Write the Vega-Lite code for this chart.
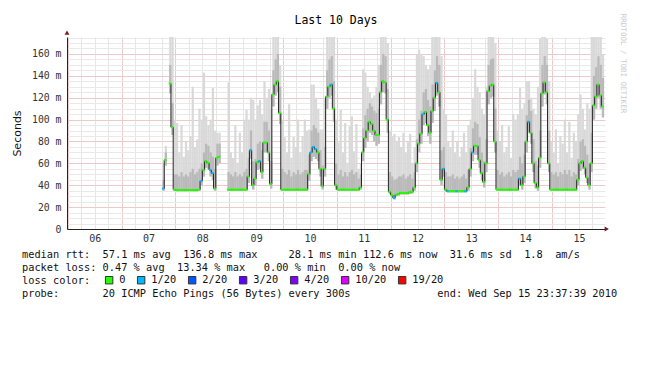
{
  "$schema": "https://vega.github.io/schema/vega-lite/v6.json",
  "autosize": "none",
  "width": 538,
  "height": 192,
  "padding": {"left": 67, "top": 37, "right": 45, "bottom": 153},
  "background": "#ffffff",
  "config": {"view": {"stroke": null}},
  "title": {"text": "Last 10 Days", "font": "DejaVu Sans Mono", "fontSize": 11.5, "fontWeight": "normal", "color": "#000000", "anchor": "middle", "offset": 10, "dy": 23.5},
  "datasets": {
    "smoke": [
      {"t":"2010-09-07T18:30Z","s":"a","m":37,"lo":35,"q":45,"hi":60,"l":"1/20"},
      {"t":"2010-09-07T19:30Z","s":"a","m":63,"lo":58,"q":70,"hi":76,"l":"0"},
      {"t":"2010-09-07T21:30Z","s":"b","m":133,"lo":124,"q":150,"hi":176,"l":"0"},
      {"t":"2010-09-07T22:30Z","s":"b","m":93,"lo":86,"q":115,"hi":176,"l":"0"},
      {"t":"2010-09-07T23:30Z","s":"b","m":36,"lo":35,"q":50,"hi":100,"l":"0"},
      {"t":"2010-09-08T00:30Z","s":"b","m":35.5,"lo":34.5,"q":50,"hi":97,"l":"0"},
      {"t":"2010-09-08T01:30Z","s":"b","m":35.5,"lo":34.5,"q":48,"hi":70,"l":"0"},
      {"t":"2010-09-08T02:30Z","s":"b","m":35.5,"lo":34.5,"q":52,"hi":95,"l":"0"},
      {"t":"2010-09-08T03:30Z","s":"b","m":35.5,"lo":34.5,"q":48,"hi":66,"l":"0"},
      {"t":"2010-09-08T04:30Z","s":"b","m":35.5,"lo":34.5,"q":50,"hi":80,"l":"0"},
      {"t":"2010-09-08T05:30Z","s":"b","m":35.5,"lo":34.5,"q":48,"hi":72,"l":"0"},
      {"t":"2010-09-08T06:30Z","s":"b","m":35.5,"lo":34.5,"q":52,"hi":85,"l":"0"},
      {"t":"2010-09-08T07:30Z","s":"b","m":35.5,"lo":34.5,"q":55,"hi":130,"l":"0"},
      {"t":"2010-09-08T08:30Z","s":"b","m":35.5,"lo":34.5,"q":50,"hi":75,"l":"0"},
      {"t":"2010-09-08T09:30Z","s":"b","m":35.5,"lo":34.5,"q":52,"hi":82,"l":"0"},
      {"t":"2010-09-08T10:30Z","s":"b","m":36,"lo":35,"q":55,"hi":110,"l":"0"},
      {"t":"2010-09-08T11:30Z","s":"b","m":44,"lo":40,"q":60,"hi":100,"l":"1/20"},
      {"t":"2010-09-08T12:30Z","s":"b","m":54,"lo":48,"q":70,"hi":143,"l":"0"},
      {"t":"2010-09-08T13:30Z","s":"b","m":62,"lo":56,"q":78,"hi":103,"l":"0"},
      {"t":"2010-09-08T14:30Z","s":"b","m":60.5,"lo":55,"q":76,"hi":95,"l":"0"},
      {"t":"2010-09-08T15:30Z","s":"b","m":54,"lo":48,"q":70,"hi":100,"l":"1/20"},
      {"t":"2010-09-08T16:30Z","s":"b","m":51,"lo":45,"q":66,"hi":129,"l":"1/20"},
      {"t":"2010-09-08T17:30Z","s":"b","m":37,"lo":35,"q":55,"hi":90,"l":"0"},
      {"t":"2010-09-08T18:30Z","s":"b","m":65,"lo":58,"q":78,"hi":88,"l":"0"},
      {"t":"2010-09-08T19:30Z","s":"b","m":66,"lo":60,"q":78,"hi":88,"l":"0"},
      {"t":"2010-09-08T23:30Z","s":"c","m":36,"lo":35,"q":52,"hi":134,"l":"0"},
      {"t":"2010-09-09T00:30Z","s":"c","m":36,"lo":35,"q":50,"hi":70,"l":"0"},
      {"t":"2010-09-09T01:30Z","s":"c","m":36,"lo":35,"q":48,"hi":65,"l":"0"},
      {"t":"2010-09-09T02:30Z","s":"c","m":36,"lo":35,"q":52,"hi":95,"l":"0"},
      {"t":"2010-09-09T03:30Z","s":"c","m":36,"lo":35,"q":48,"hi":60,"l":"0"},
      {"t":"2010-09-09T04:30Z","s":"c","m":36,"lo":35,"q":50,"hi":88,"l":"0"},
      {"t":"2010-09-09T05:30Z","s":"c","m":36,"lo":35,"q":48,"hi":70,"l":"0"},
      {"t":"2010-09-09T06:30Z","s":"c","m":36,"lo":35,"q":52,"hi":100,"l":"0"},
      {"t":"2010-09-09T07:30Z","s":"c","m":36,"lo":35,"q":55,"hi":109,"l":"0"},
      {"t":"2010-09-09T08:30Z","s":"c","m":48,"lo":42,"q":65,"hi":100,"l":"0"},
      {"t":"2010-09-09T09:30Z","s":"c","m":72,"lo":64,"q":90,"hi":120,"l":"1/20"},
      {"t":"2010-09-09T10:30Z","s":"c","m":40,"lo":36,"q":62,"hi":118,"l":"0"},
      {"t":"2010-09-09T11:30Z","s":"c","m":46,"lo":40,"q":64,"hi":100,"l":"0"},
      {"t":"2010-09-09T12:30Z","s":"c","m":61,"lo":54,"q":78,"hi":113,"l":"0"},
      {"t":"2010-09-09T13:30Z","s":"c","m":62,"lo":55,"q":80,"hi":118,"l":"1/20"},
      {"t":"2010-09-09T14:30Z","s":"c","m":52,"lo":46,"q":72,"hi":105,"l":"0"},
      {"t":"2010-09-09T15:30Z","s":"c","m":79,"lo":70,"q":98,"hi":135,"l":"0"},
      {"t":"2010-09-09T16:30Z","s":"c","m":79,"lo":70,"q":98,"hi":120,"l":"0"},
      {"t":"2010-09-09T17:30Z","s":"c","m":70,"lo":62,"q":90,"hi":128,"l":"0"},
      {"t":"2010-09-09T18:30Z","s":"c","m":41,"lo":37,"q":62,"hi":110,"l":"0"},
      {"t":"2010-09-09T19:30Z","s":"c","m":123,"lo":112,"q":145,"hi":176,"l":"0"},
      {"t":"2010-09-09T20:30Z","s":"c","m":132,"lo":122,"q":155,"hi":176,"l":"0"},
      {"t":"2010-09-09T21:30Z","s":"c","m":135,"lo":125,"q":160,"hi":176,"l":"0"},
      {"t":"2010-09-09T22:30Z","s":"c","m":106,"lo":96,"q":130,"hi":150,"l":"0"},
      {"t":"2010-09-09T23:30Z","s":"c","m":36,"lo":35,"q":55,"hi":100,"l":"0"},
      {"t":"2010-09-10T00:30Z","s":"c","m":36,"lo":35,"q":52,"hi":84,"l":"0"},
      {"t":"2010-09-10T01:30Z","s":"c","m":36,"lo":35,"q":50,"hi":70,"l":"0"},
      {"t":"2010-09-10T02:30Z","s":"c","m":36,"lo":35,"q":54,"hi":114,"l":"0"},
      {"t":"2010-09-10T03:30Z","s":"c","m":36,"lo":35,"q":48,"hi":65,"l":"0"},
      {"t":"2010-09-10T04:30Z","s":"c","m":36,"lo":35,"q":52,"hi":84,"l":"0"},
      {"t":"2010-09-10T05:30Z","s":"c","m":36,"lo":35,"q":50,"hi":75,"l":"0"},
      {"t":"2010-09-10T06:30Z","s":"c","m":36,"lo":35,"q":54,"hi":100,"l":"0"},
      {"t":"2010-09-10T07:30Z","s":"c","m":36,"lo":35,"q":50,"hi":70,"l":"0"},
      {"t":"2010-09-10T08:30Z","s":"c","m":36,"lo":35,"q":52,"hi":85,"l":"0"},
      {"t":"2010-09-10T09:30Z","s":"c","m":36,"lo":35,"q":54,"hi":100,"l":"0"},
      {"t":"2010-09-10T10:30Z","s":"c","m":36,"lo":35,"q":54,"hi":90,"l":"0"},
      {"t":"2010-09-10T11:30Z","s":"c","m":50,"lo":44,"q":68,"hi":91,"l":"0"},
      {"t":"2010-09-10T12:30Z","s":"c","m":70,"lo":62,"q":90,"hi":132,"l":"1/20"},
      {"t":"2010-09-10T13:30Z","s":"c","m":75,"lo":66,"q":95,"hi":132,"l":"1/20"},
      {"t":"2010-09-10T14:30Z","s":"c","m":73,"lo":64,"q":92,"hi":120,"l":"1/20"},
      {"t":"2010-09-10T15:30Z","s":"c","m":70,"lo":62,"q":88,"hi":110,"l":"0"},
      {"t":"2010-09-10T16:30Z","s":"c","m":55,"lo":48,"q":72,"hi":91,"l":"0"},
      {"t":"2010-09-10T17:30Z","s":"c","m":39,"lo":36,"q":58,"hi":91,"l":"0"},
      {"t":"2010-09-10T18:30Z","s":"c","m":55,"lo":48,"q":75,"hi":120,"l":"0"},
      {"t":"2010-09-10T19:30Z","s":"c","m":121,"lo":110,"q":145,"hi":176,"l":"0"},
      {"t":"2010-09-10T20:30Z","s":"c","m":130,"lo":120,"q":155,"hi":176,"l":"0"},
      {"t":"2010-09-10T21:30Z","s":"c","m":132,"lo":122,"q":158,"hi":176,"l":"1/20"},
      {"t":"2010-09-10T22:30Z","s":"c","m":110,"lo":98,"q":135,"hi":176,"l":"0"},
      {"t":"2010-09-10T23:30Z","s":"c","m":40,"lo":36,"q":60,"hi":100,"l":"0"},
      {"t":"2010-09-11T00:30Z","s":"c","m":36,"lo":35,"q":50,"hi":79,"l":"0"},
      {"t":"2010-09-11T01:30Z","s":"c","m":36,"lo":35,"q":54,"hi":109,"l":"0"},
      {"t":"2010-09-11T02:30Z","s":"c","m":36,"lo":35,"q":48,"hi":70,"l":"0"},
      {"t":"2010-09-11T03:30Z","s":"c","m":36,"lo":35,"q":52,"hi":97,"l":"0"},
      {"t":"2010-09-11T04:30Z","s":"c","m":36,"lo":35,"q":48,"hi":60,"l":"0"},
      {"t":"2010-09-11T05:30Z","s":"c","m":36,"lo":35,"q":52,"hi":94,"l":"0"},
      {"t":"2010-09-11T06:30Z","s":"c","m":36,"lo":35,"q":54,"hi":103,"l":"0"},
      {"t":"2010-09-11T07:30Z","s":"c","m":36,"lo":35,"q":50,"hi":71,"l":"0"},
      {"t":"2010-09-11T08:30Z","s":"c","m":36,"lo":35,"q":52,"hi":96,"l":"0"},
      {"t":"2010-09-11T09:30Z","s":"c","m":36,"lo":35,"q":46,"hi":55,"l":"0"},
      {"t":"2010-09-11T10:30Z","s":"c","m":38,"lo":36,"q":50,"hi":60,"l":"0"},
      {"t":"2010-09-11T11:30Z","s":"c","m":70,"lo":62,"q":92,"hi":146,"l":"0"},
      {"t":"2010-09-11T12:30Z","s":"c","m":83,"lo":74,"q":104,"hi":143,"l":"0"},
      {"t":"2010-09-11T13:30Z","s":"c","m":90,"lo":80,"q":110,"hi":130,"l":"0"},
      {"t":"2010-09-11T14:30Z","s":"c","m":98,"lo":88,"q":115,"hi":125,"l":"0"},
      {"t":"2010-09-11T15:30Z","s":"c","m":96,"lo":86,"q":112,"hi":120,"l":"0"},
      {"t":"2010-09-11T16:30Z","s":"c","m":90,"lo":80,"q":108,"hi":122,"l":"0"},
      {"t":"2010-09-11T17:30Z","s":"c","m":86,"lo":76,"q":106,"hi":130,"l":"0"},
      {"t":"2010-09-11T18:30Z","s":"c","m":86,"lo":78,"q":110,"hi":150,"l":"0"},
      {"t":"2010-09-11T19:30Z","s":"c","m":125,"lo":114,"q":150,"hi":176,"l":"0"},
      {"t":"2010-09-11T20:30Z","s":"c","m":135,"lo":125,"q":160,"hi":176,"l":"0"},
      {"t":"2010-09-11T21:30Z","s":"c","m":134,"lo":124,"q":158,"hi":176,"l":"0"},
      {"t":"2010-09-11T22:30Z","s":"c","m":100,"lo":88,"q":128,"hi":170,"l":"0"},
      {"t":"2010-09-11T23:30Z","s":"c","m":34,"lo":32,"q":52,"hi":90,"l":"0"},
      {"t":"2010-09-12T00:30Z","s":"c","m":31,"lo":29,"q":48,"hi":85,"l":"0"},
      {"t":"2010-09-12T01:30Z","s":"c","m":28.5,"lo":27,"q":45,"hi":87,"l":"1/20"},
      {"t":"2010-09-12T02:30Z","s":"c","m":31.5,"lo":30,"q":46,"hi":80,"l":"0"},
      {"t":"2010-09-12T03:30Z","s":"c","m":32,"lo":30.5,"q":48,"hi":84,"l":"0"},
      {"t":"2010-09-12T04:30Z","s":"c","m":33,"lo":31.5,"q":48,"hi":75,"l":"0"},
      {"t":"2010-09-12T05:30Z","s":"c","m":33,"lo":31.5,"q":50,"hi":88,"l":"0"},
      {"t":"2010-09-12T06:30Z","s":"c","m":33,"lo":31.5,"q":46,"hi":70,"l":"0"},
      {"t":"2010-09-12T07:30Z","s":"c","m":33,"lo":31.5,"q":48,"hi":80,"l":"0"},
      {"t":"2010-09-12T08:30Z","s":"c","m":33.5,"lo":32,"q":50,"hi":87,"l":"0"},
      {"t":"2010-09-12T09:30Z","s":"c","m":34,"lo":32.5,"q":46,"hi":60,"l":"0"},
      {"t":"2010-09-12T10:30Z","s":"c","m":38,"lo":35,"q":52,"hi":75,"l":"0"},
      {"t":"2010-09-12T11:30Z","s":"c","m":60,"lo":52,"q":82,"hi":159,"l":"0"},
      {"t":"2010-09-12T12:30Z","s":"c","m":78,"lo":70,"q":100,"hi":164,"l":"0"},
      {"t":"2010-09-12T13:30Z","s":"c","m":87,"lo":78,"q":108,"hi":160,"l":"0"},
      {"t":"2010-09-12T14:30Z","s":"c","m":105,"lo":95,"q":125,"hi":158,"l":"1/20"},
      {"t":"2010-09-12T15:30Z","s":"c","m":107,"lo":97,"q":128,"hi":150,"l":"0"},
      {"t":"2010-09-12T16:30Z","s":"c","m":95,"lo":85,"q":118,"hi":146,"l":"0"},
      {"t":"2010-09-12T17:30Z","s":"c","m":88,"lo":78,"q":112,"hi":150,"l":"0"},
      {"t":"2010-09-12T18:30Z","s":"c","m":108,"lo":97,"q":132,"hi":176,"l":"0"},
      {"t":"2010-09-12T19:30Z","s":"c","m":120,"lo":108,"q":145,"hi":176,"l":"0"},
      {"t":"2010-09-12T20:30Z","s":"c","m":133.6,"lo":122,"q":158,"hi":176,"l":"1/20"},
      {"t":"2010-09-12T21:30Z","s":"c","m":125,"lo":112,"q":150,"hi":176,"l":"0"},
      {"t":"2010-09-12T22:30Z","s":"c","m":45,"lo":40,"q":72,"hi":158,"l":"0"},
      {"t":"2010-09-12T23:30Z","s":"c","m":55,"lo":48,"q":75,"hi":110,"l":"1/20"},
      {"t":"2010-09-13T00:30Z","s":"c","m":36,"lo":34,"q":52,"hi":105,"l":"0"},
      {"t":"2010-09-13T01:30Z","s":"c","m":34.5,"lo":33.5,"q":48,"hi":80,"l":"1/20"},
      {"t":"2010-09-13T02:30Z","s":"c","m":34.5,"lo":33.5,"q":48,"hi":75,"l":"0"},
      {"t":"2010-09-13T03:30Z","s":"c","m":34.5,"lo":33.5,"q":50,"hi":90,"l":"0"},
      {"t":"2010-09-13T04:30Z","s":"c","m":34.5,"lo":33.5,"q":46,"hi":70,"l":"0"},
      {"t":"2010-09-13T05:30Z","s":"c","m":34.5,"lo":33.5,"q":48,"hi":80,"l":"1/20"},
      {"t":"2010-09-13T06:30Z","s":"c","m":34.5,"lo":33.5,"q":46,"hi":66,"l":"0"},
      {"t":"2010-09-13T07:30Z","s":"c","m":34.5,"lo":33.5,"q":48,"hi":75,"l":"0"},
      {"t":"2010-09-13T08:30Z","s":"c","m":34.5,"lo":33.5,"q":50,"hi":88,"l":"0"},
      {"t":"2010-09-13T09:30Z","s":"c","m":34.5,"lo":33.5,"q":46,"hi":70,"l":"1/20"},
      {"t":"2010-09-13T10:30Z","s":"c","m":38,"lo":35,"q":54,"hi":95,"l":"0"},
      {"t":"2010-09-13T11:30Z","s":"c","m":55,"lo":48,"q":74,"hi":100,"l":"0"},
      {"t":"2010-09-13T12:30Z","s":"c","m":70,"lo":62,"q":92,"hi":120,"l":"1/20"},
      {"t":"2010-09-13T13:30Z","s":"c","m":76,"lo":68,"q":98,"hi":146,"l":"0"},
      {"t":"2010-09-13T14:30Z","s":"c","m":76,"lo":68,"q":96,"hi":130,"l":"0"},
      {"t":"2010-09-13T15:30Z","s":"c","m":63,"lo":56,"q":84,"hi":125,"l":"0"},
      {"t":"2010-09-13T16:30Z","s":"c","m":51,"lo":45,"q":70,"hi":110,"l":"0"},
      {"t":"2010-09-13T17:30Z","s":"c","m":43,"lo":38,"q":62,"hi":105,"l":"0"},
      {"t":"2010-09-13T18:30Z","s":"c","m":60,"lo":52,"q":82,"hi":130,"l":"0"},
      {"t":"2010-09-13T19:30Z","s":"c","m":126,"lo":114,"q":150,"hi":176,"l":"0"},
      {"t":"2010-09-13T20:30Z","s":"c","m":131,"lo":120,"q":155,"hi":176,"l":"0"},
      {"t":"2010-09-13T21:30Z","s":"c","m":132,"lo":121,"q":156,"hi":176,"l":"0"},
      {"t":"2010-09-13T22:30Z","s":"c","m":80,"lo":70,"q":110,"hi":170,"l":"0"},
      {"t":"2010-09-13T23:30Z","s":"c","m":36,"lo":35,"q":54,"hi":90,"l":"0"},
      {"t":"2010-09-14T00:30Z","s":"c","m":36,"lo":35,"q":50,"hi":80,"l":"0"},
      {"t":"2010-09-14T01:30Z","s":"c","m":36,"lo":35,"q":52,"hi":95,"l":"0"},
      {"t":"2010-09-14T02:30Z","s":"c","m":36,"lo":35,"q":48,"hi":70,"l":"0"},
      {"t":"2010-09-14T03:30Z","s":"c","m":36,"lo":35,"q":50,"hi":75,"l":"0"},
      {"t":"2010-09-14T04:30Z","s":"c","m":36,"lo":35,"q":52,"hi":94,"l":"0"},
      {"t":"2010-09-14T05:30Z","s":"c","m":36,"lo":35,"q":48,"hi":65,"l":"0"},
      {"t":"2010-09-14T06:30Z","s":"c","m":36,"lo":35,"q":54,"hi":105,"l":"0"},
      {"t":"2010-09-14T07:30Z","s":"c","m":36,"lo":35,"q":52,"hi":100,"l":"0"},
      {"t":"2010-09-14T08:30Z","s":"c","m":36,"lo":35,"q":54,"hi":105,"l":"0"},
      {"t":"2010-09-14T09:30Z","s":"c","m":46,"lo":40,"q":66,"hi":129,"l":"1/20"},
      {"t":"2010-09-14T10:30Z","s":"c","m":40,"lo":36,"q":60,"hi":110,"l":"0"},
      {"t":"2010-09-14T11:30Z","s":"c","m":48,"lo":42,"q":68,"hi":115,"l":"0"},
      {"t":"2010-09-14T12:30Z","s":"c","m":80,"lo":70,"q":104,"hi":135,"l":"0"},
      {"t":"2010-09-14T13:30Z","s":"c","m":98,"lo":88,"q":118,"hi":135,"l":"1/20"},
      {"t":"2010-09-14T14:30Z","s":"c","m":88,"lo":78,"q":108,"hi":120,"l":"0"},
      {"t":"2010-09-14T15:30Z","s":"c","m":60,"lo":52,"q":82,"hi":110,"l":"0"},
      {"t":"2010-09-14T16:30Z","s":"c","m":42,"lo":37,"q":62,"hi":105,"l":"0"},
      {"t":"2010-09-14T17:30Z","s":"c","m":38,"lo":35,"q":58,"hi":130,"l":"0"},
      {"t":"2010-09-14T18:30Z","s":"c","m":65,"lo":56,"q":90,"hi":174,"l":"0"},
      {"t":"2010-09-14T19:30Z","s":"c","m":124,"lo":112,"q":150,"hi":176,"l":"0"},
      {"t":"2010-09-14T20:30Z","s":"c","m":134,"lo":123,"q":158,"hi":176,"l":"0"},
      {"t":"2010-09-14T21:30Z","s":"c","m":125,"lo":114,"q":150,"hi":174,"l":"0"},
      {"t":"2010-09-14T22:30Z","s":"c","m":60,"lo":52,"q":90,"hi":135,"l":"0"},
      {"t":"2010-09-14T23:30Z","s":"c","m":36,"lo":35,"q":52,"hi":80,"l":"0"},
      {"t":"2010-09-15T00:30Z","s":"c","m":36,"lo":35,"q":50,"hi":70,"l":"0"},
      {"t":"2010-09-15T01:30Z","s":"c","m":36,"lo":35,"q":52,"hi":91,"l":"0"},
      {"t":"2010-09-15T02:30Z","s":"c","m":36,"lo":35,"q":48,"hi":60,"l":"0"},
      {"t":"2010-09-15T03:30Z","s":"c","m":36,"lo":35,"q":52,"hi":85,"l":"0"},
      {"t":"2010-09-15T04:30Z","s":"c","m":36,"lo":35,"q":50,"hi":78,"l":"0"},
      {"t":"2010-09-15T05:30Z","s":"c","m":36,"lo":35,"q":54,"hi":100,"l":"0"},
      {"t":"2010-09-15T06:30Z","s":"c","m":36,"lo":35,"q":50,"hi":70,"l":"0"},
      {"t":"2010-09-15T07:30Z","s":"c","m":36,"lo":35,"q":54,"hi":98,"l":"0"},
      {"t":"2010-09-15T08:30Z","s":"c","m":36,"lo":35,"q":48,"hi":65,"l":"0"},
      {"t":"2010-09-15T09:30Z","s":"c","m":36,"lo":35,"q":52,"hi":88,"l":"0"},
      {"t":"2010-09-15T10:30Z","s":"c","m":36,"lo":35,"q":50,"hi":80,"l":"0"},
      {"t":"2010-09-15T11:30Z","s":"c","m":45,"lo":40,"q":64,"hi":105,"l":"0"},
      {"t":"2010-09-15T12:30Z","s":"c","m":60,"lo":53,"q":80,"hi":123,"l":"0"},
      {"t":"2010-09-15T13:30Z","s":"c","m":62,"lo":55,"q":82,"hi":110,"l":"0"},
      {"t":"2010-09-15T14:30Z","s":"c","m":56,"lo":50,"q":76,"hi":91,"l":"0"},
      {"t":"2010-09-15T15:30Z","s":"c","m":47,"lo":42,"q":68,"hi":115,"l":"0"},
      {"t":"2010-09-15T16:30Z","s":"c","m":40,"lo":36,"q":60,"hi":110,"l":"0"},
      {"t":"2010-09-15T17:30Z","s":"c","m":60,"lo":52,"q":88,"hi":176,"l":"0"},
      {"t":"2010-09-15T18:30Z","s":"c","m":113,"lo":100,"q":140,"hi":176,"l":"0"},
      {"t":"2010-09-15T19:30Z","s":"c","m":121,"lo":110,"q":148,"hi":176,"l":"0"},
      {"t":"2010-09-15T20:30Z","s":"c","m":132,"lo":120,"q":158,"hi":176,"l":"0"},
      {"t":"2010-09-15T21:30Z","s":"c","m":122,"lo":110,"q":150,"hi":176,"l":"0"},
      {"t":"2010-09-15T22:30Z","s":"c","m":112,"lo":102,"q":138,"hi":160,"l":"0"}
    ]
  },
  "data": {"name": "smoke"},
  "resolve": {"axis": {"y": "independent"}},
  "layer": [
    {
      "mark": {"type": "bar", "color": "#d9d9d9", "binSpacing": 0, "clip": true},
      "encoding": {
        "x": {"field": "t", "type": "temporal", "timeUnit": "utcyearmonthdatehours"},
        "y": {
          "field": "lo", "type": "quantitative",
          "axis": {
            "orient": "left",
            "values": [5,10,15,25,30,35,45,50,55,65,70,75,85,90,95,105,110,115,125,130,135,145,150,155,165,170,175],
            "grid": true, "gridColor": "#e9e9e9",
            "labels": false, "ticks": false, "domain": false, "title": null
          }
        },
        "y2": {"field": "hi"}
      }
    },
    {
      "mark": {"type": "bar", "color": "#b9b9b9", "binSpacing": 0, "clip": true},
      "encoding": {
        "x": {"field": "t", "type": "temporal", "timeUnit": "utcyearmonthdatehours"},
        "y": {"field": "lo", "type": "quantitative", "axis": null},
        "y2": {"field": "q"}
      }
    },
    {
      "mark": {"type": "line", "interpolate": "step", "color": "#222222", "strokeWidth": 1, "clip": true},
      "encoding": {
        "x": {
          "field": "t", "type": "temporal",
          "scale": {"type": "utc", "domain": ["2010-09-05T23:37:39Z", "2010-09-15T23:37:39Z"]},
          "axis": {
            "orient": "bottom",
            "tickCount": 40,
            "grid": true,
            "gridColor": {"condition": {"test": "utchours(datum.value) == 0", "value": "#eccaca"}, "value": "#e6e6e6"},
            "ticks": false,
            "domain": true,
            "domainColor": "#222222",
            "labelExpr": "utchours(datum.value) == 12 ? utcFormat(datum.value, '%d') : ''",
            "labelOverlap": false,
            "labelFlush": false,
            "labelFont": "DejaVu Sans Mono",
            "labelFontSize": 10,
            "labelColor": "#333333",
            "labelPadding": 4,
            "title": [
              "median rtt:\u00a0\u00a057.1 ms avg\u00a0\u00a0136.8 ms max\u00a0\u00a0\u00a0\u00a0\u00a028.1 ms min\u00a0112.6 ms now\u00a0\u00a031.6 ms sd\u00a0\u00a01.8\u00a0\u00a0am/s",
              "packet loss:\u00a00.47 % avg\u00a0\u00a013.34 % max\u00a0\u00a0\u00a00.00 % min\u00a0\u00a00.00 % now",
              "loss color:",
              "probe:\u00a0\u00a0\u00a0\u00a0\u00a0\u00a0\u00a020 ICMP Echo Pings (56 Bytes) every 300s\u00a0\u00a0\u00a0\u00a0\u00a0\u00a0\u00a0\u00a0\u00a0\u00a0\u00a0\u00a0\u00a0\u00a0end: Wed Sep 15 23:37:39 2010"
            ],
            "titleFont": "DejaVu Sans Mono",
            "titleFontSize": 10.3,
            "titleFontWeight": "normal",
            "titleColor": "#111111",
            "titleAnchor": "start",
            "titleAlign": "left",
            "titleBaseline": "top",
            "titleX": -45.5,
            "titleY": 20,
            "titleLineHeight": 13
          }
        },
        "y": {
          "field": "m", "type": "quantitative",
          "scale": {"domain": [0, 175.5], "nice": false, "zero": true},
          "axis": {
            "orient": "left",
            "values": [0, 20, 40, 60, 80, 100, 120, 140, 160],
            "grid": true,
            "gridColor": "#eccaca",
            "ticks": false,
            "domain": true,
            "domainColor": "#222222",
            "labelExpr": "datum.value == 0 ? '0' : datum.value + ' m'",
            "labelOverlap": false,
            "labelFont": "DejaVu Sans Mono",
            "labelFontSize": 9.8,
            "labelColor": "#333333",
            "labelPadding": 6,
            "title": "Seconds",
            "titleFont": "DejaVu Sans",
            "titleFontSize": 11,
            "titleFontWeight": "normal",
            "titleColor": "#111111",
            "titleAngle": -90,
            "titleX": -50,
            "titleY": 96,
            "titleAlign": "center",
            "titleBaseline": "middle"
          }
        },
        "detail": {"field": "s"}
      }
    },
    {
      "mark": {"type": "tick", "orient": "horizontal", "size": 2.4, "thickness": 2, "opacity": 1, "clip": true},
      "encoding": {
        "x": {"field": "t", "type": "temporal"},
        "y": {
          "field": "m", "type": "quantitative",
          "axis": {
            "orient": "right", "labels": false, "ticks": false, "domain": false, "grid": false,
            "title": "RRDTOOL / TOBI OETIKER",
            "titleFont": "DejaVu Sans Mono", "titleFontSize": 7.5, "titleFontWeight": "normal",
            "titleColor": "#cccccc", "titleAngle": 90, "titleX": 17, "titleY": 26,
            "titleAlign": "center", "titleBaseline": "middle"
          }
        },
        "color": {
          "field": "l", "type": "nominal",
          "scale": {
            "domain": ["0", "1/20", "2/20", "3/20", "4/20", "10/20", "19/20"],
            "range": ["#26ff00", "#00b8ff", "#0059ff", "#5e00ff", "#7e00ff", "#dd00ff", "#ff0000"]
          },
          "legend": {
            "orient": "none", "legendX": 37, "legendY": 238,
            "direction": "horizontal", "columns": 7, "title": null,
            "symbolType": "square", "symbolSize": 55, "symbolStrokeColor": "#333333", "symbolStrokeWidth": 1,
            "symbolOpacity": 1,
            "labelFont": "DejaVu Sans Mono", "labelFontSize": 10.3, "labelColor": "#111111",
            "labelOffset": 5, "columnPadding": 9, "padding": 0
          }
        }
      }
    },
    {
      "data": {"values": [{"t": "2010-09-16T00:25:00Z", "v": 0}]},
      "mark": {"type": "point", "shape": "triangle-right", "size": 24, "filled": true, "color": "#7b1c1c", "opacity": 1, "clip": false},
      "encoding": {
        "x": {"field": "t", "type": "temporal"},
        "y": {"field": "v", "type": "quantitative", "axis": null}
      }
    },
    {
      "data": {"values": [{"t": "2010-09-05T23:37:39Z", "v": 179.5}]},
      "mark": {"type": "point", "shape": "triangle-up", "size": 24, "filled": true, "color": "#7b1c1c", "opacity": 1, "clip": false},
      "encoding": {
        "x": {"field": "t", "type": "temporal"},
        "y": {"field": "v", "type": "quantitative", "axis": null}
      }
    }
  ]
}
